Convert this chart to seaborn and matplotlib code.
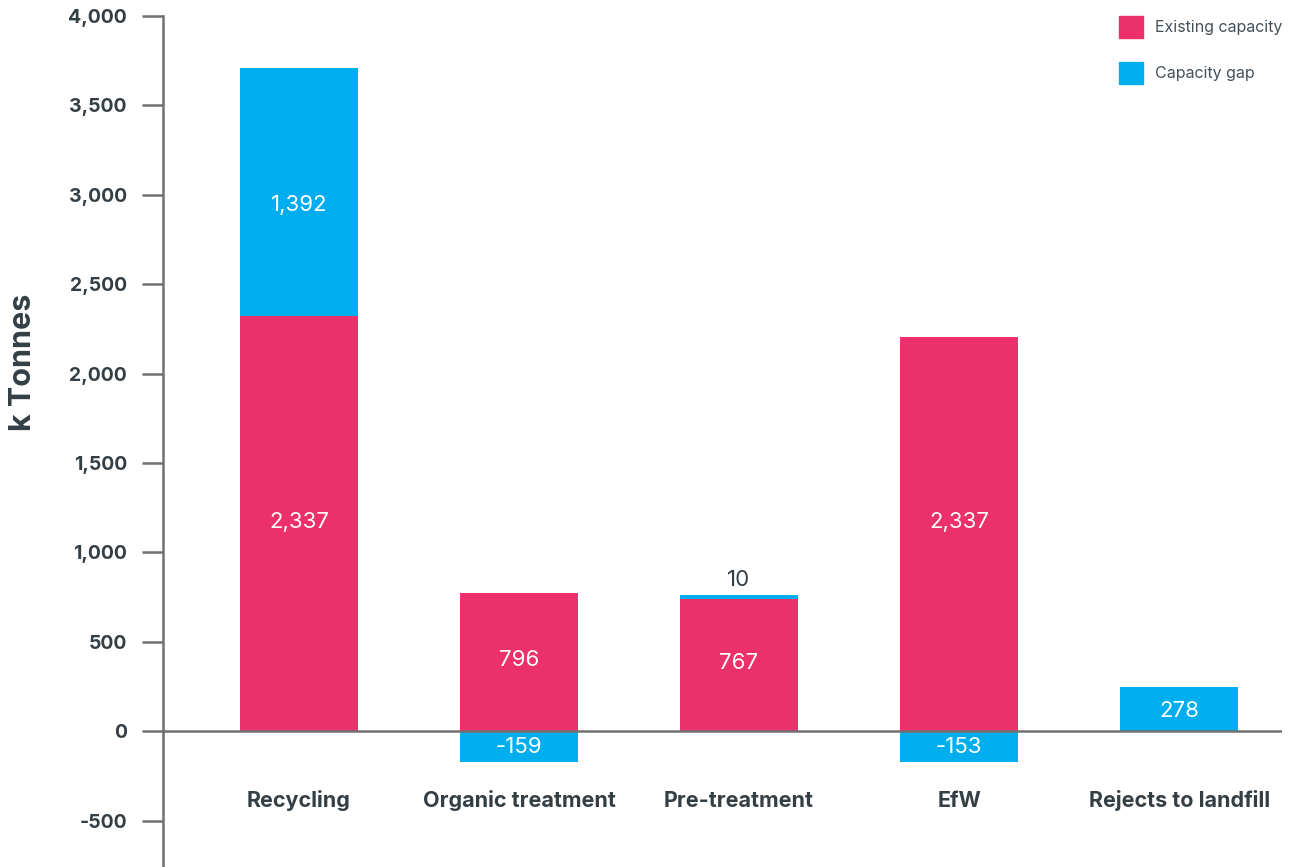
import pandas as pd
import numpy as np
import matplotlib
matplotlib.use("Agg")
import matplotlib.pyplot as plt
import matplotlib.ticker as mticker
from matplotlib.patches import Patch
import seaborn as sns

categories = ["Recycling", "Organic treatment", "Pre-treatment", "EfW", "Rejects to landfill"]
existing = [2321, 772, 738, 2204, 0]
gap = [1387, -173, 23, -173, 246]
existing_labels = ["2,337", "796", "767", "2,337", ""]
gap_labels = ["1,392", "-159", "10", "-153", "278"]

pink = "#EC306B"
blue = "#00AEEF"
axis_grey = "#707070"
text_dark = "#343E45"

df = pd.DataFrame({"category": categories, "existing": existing, "gap": gap})
df["blue_top"] = np.where(df["gap"] > 0, df["existing"] + df["gap"], df["gap"])

sns.set_theme(style="white")
plt.rcParams["font.family"] = ["Inter", "DejaVu Sans"]

fig = plt.figure(figsize=(12.95, 8.67), dpi=100)
ax = fig.add_axes([0.1259, 0.0, 0.8641, 0.9815])

sns.barplot(data=df, x="category", y="blue_top", order=categories, color=blue,
            width=0.536, saturation=1, ax=ax, linewidth=0, zorder=2)
sns.barplot(data=df, x="category", y="existing", order=categories, color=pink,
            width=0.536, saturation=1, ax=ax, linewidth=0, zorder=2)

ax.set_xlim(-0.618, 4.468)
ax.set_ylim(-760, 4000)
ax.axhline(0, color=axis_grey, lw=1.8, zorder=4)

# value labels
for i, row in df.iterrows():
    if existing_labels[i]:
        yv = float(existing_labels[i].replace(",", "")) / 2
        ax.text(i, yv, existing_labels[i], ha="center", va="center",
                color="white", fontsize=16, zorder=5)
    g = row["gap"]
    if g > 60:
        ax.text(i, row["existing"] + g * 0.45, gap_labels[i], ha="center", va="center",
                color="white", fontsize=16, zorder=5)
    elif g < 0:
        ax.text(i, g / 2, gap_labels[i], ha="center", va="center",
                color="white", fontsize=16, zorder=5)
    else:
        ax.text(i, row["existing"] + g + 30, gap_labels[i], ha="center", va="bottom",
                color=text_dark, fontsize=16, zorder=5)

# category labels under the axis
for i, name in enumerate(categories):
    ax.text(i, -390, name, ha="center", va="center", color=text_dark,
            fontsize=15.5, fontweight="bold")

ax.set_xticks([])
ax.set_xlabel("")
ax.set_yticks(np.arange(-500, 4001, 500))
ax.yaxis.set_major_formatter(mticker.FuncFormatter(lambda v, p: f"{int(v):,}"))
ax.tick_params(axis="y", length=15, width=1.8, color=axis_grey, pad=11,
               labelsize=14, labelcolor=text_dark, left=True)
for lbl in ax.get_yticklabels():
    lbl.set_fontweight("bold")
ax.set_ylabel("k Tonnes", fontsize=22, fontweight="bold", color=text_dark)
ax.yaxis.set_label_coords(-0.113, 0.593)

for s in ["top", "right", "bottom"]:
    ax.spines[s].set_visible(False)
ax.spines["left"].set_color(axis_grey)
ax.spines["left"].set_linewidth(1.8)

handles = [Patch(color=pink, label="Existing capacity"), Patch(color=blue, label="Capacity gap")]
leg = ax.legend(handles=handles, loc="upper right", bbox_to_anchor=(1.0, 1.0),
                frameon=False, fontsize=11.5, handlelength=1.55, handleheight=1.7,
                labelspacing=1.55, handletextpad=0.7, labelcolor="#44505A",
                borderpad=0, borderaxespad=0)

fig.savefig("out.png", dpi=100)
